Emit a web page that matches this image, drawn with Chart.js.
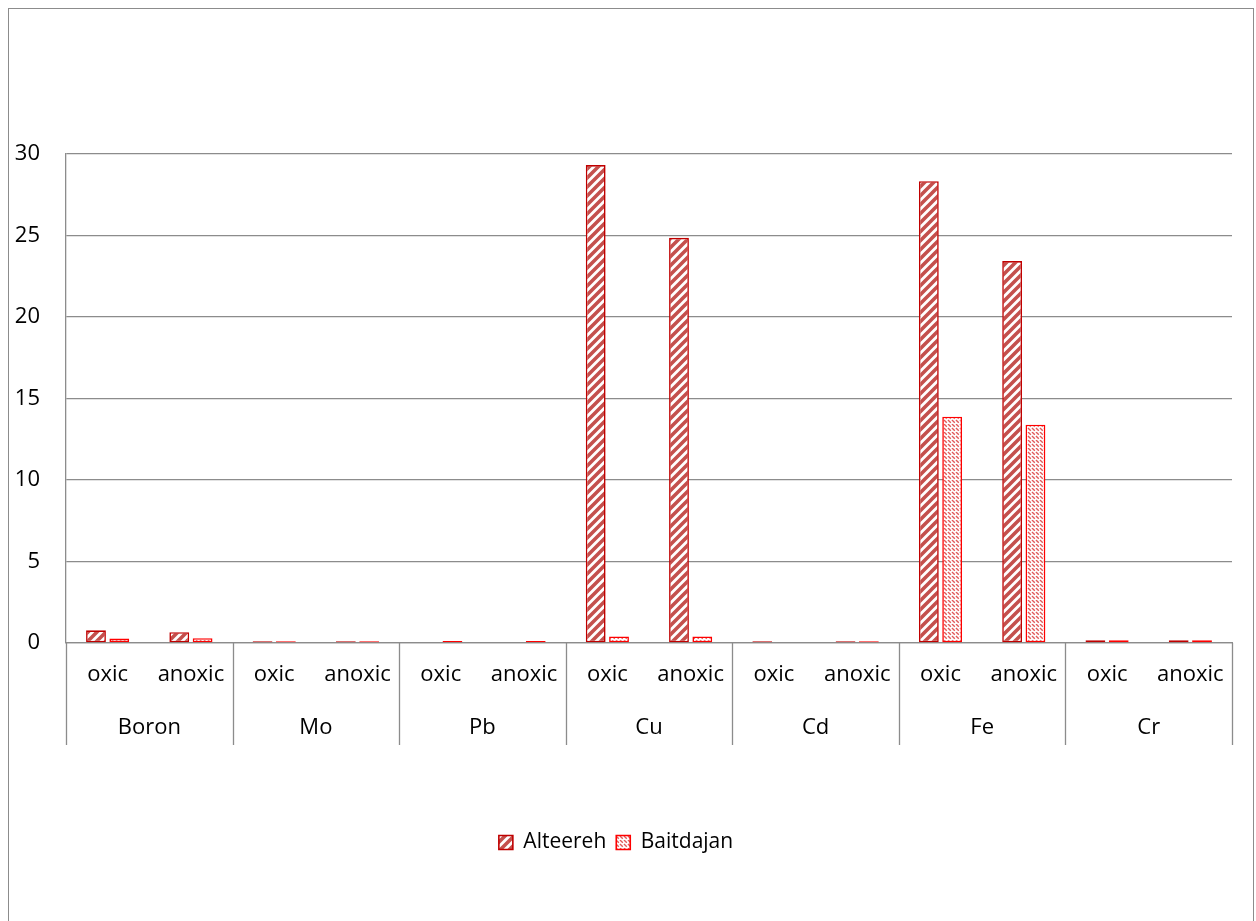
<!DOCTYPE html>
<html>
<head>
<meta charset="utf-8">
<script src="https://cdn.jsdelivr.net/npm/chart.js@4.4.1/dist/chart.umd.min.js"></script>
<style>
  html, body { margin: 0; padding: 0; background: #fff; }
  canvas { display: block; }
</style>
</head>
<body>
<canvas id="chart" width="1256" height="921"></canvas>
<script>
// Elements and sampling conditions on the category axis
const elements = ['Boron', 'Mo', 'Pb', 'Cu', 'Cd', 'Fe', 'Cr'];
const conditions = ['oxic', 'anoxic'];

// Concentrations per element/condition (oxic, anoxic for each element)
const alteereh  = [0.78, 0.66, 0.1, 0.1, 0, 0, 29.32, 24.86, 0.1, 0.1, 28.33, 23.43, 0.17, 0.17];
const baitdajan = [0.27, 0.29, 0.1, 0.1, 0.12, 0.12, 0.40, 0.40, 0, 0.1, 13.88, 13.39, 0.17, 0.17];

// Value axis
const yMin = 0, yMax = 30, yStep = 5;

const categoryLabels = [];
elements.forEach(() => conditions.forEach(c => categoryLabels.push(c)));

const FONT = '"Open Sans", "Noto Sans", sans-serif';
const GRID = '#8c8c8c';

// Wide upward-diagonal hatch
function wideUpwardPattern(color) {
  const s = 9, cv = document.createElement('canvas');
  cv.width = s; cv.height = s;
  const g = cv.getContext('2d');
  g.fillStyle = '#fff'; g.fillRect(0, 0, s, s);
  g.strokeStyle = color; g.lineWidth = 3.6; g.lineCap = 'square';
  g.beginPath();
  for (let k = -1; k <= 1; k++) {
    g.moveTo(k * s - 1, s + 1);
    g.lineTo(k * s + s + 1, -1);
  }
  g.stroke();
  return g.createPattern(cv, 'repeat');
}

// Fine dashed downward-diagonal hatch
function dashedDownwardPattern(color) {
  const s = 8, cv = document.createElement('canvas');
  cv.width = s; cv.height = s;
  const g = cv.getContext('2d');
  g.fillStyle = '#fff'; g.fillRect(0, 0, s, s);
  g.strokeStyle = color; g.lineWidth = 1.4;
  g.setLineDash([4, 1.6]);
  g.beginPath();
  for (let k = -2; k <= 2; k++) {
    g.moveTo(k * 4, 0);
    g.lineTo(k * 4 + s, s);
  }
  g.stroke();
  return g.createPattern(cv, 'repeat');
}

// Frame, separators between element groups and element names
const groupAxisPlugin = {
  id: 'groupAxis',
  beforeDraw(chart) {
    const ctx = chart.ctx;
    ctx.save();
    ctx.fillStyle = '#fff';
    ctx.fillRect(0, 0, chart.width, chart.height);
    ctx.strokeStyle = GRID;
    ctx.lineWidth = 1;
    ctx.strokeRect(8.5, 8.5, 1245, 1000);
    ctx.restore();
  },
  afterDraw(chart) {
    const x = chart.scales.x;
    const ctx = chart.ctx;
    const bottom = chart.chartArea.bottom;
    const half = (x.getPixelForValue(1) - x.getPixelForValue(0)) / 2;
    ctx.save();
    ctx.strokeStyle = GRID;
    ctx.lineWidth = 1.3;
    ctx.beginPath();
    for (let j = 0; j <= elements.length; j++) {
      const px = Math.round(x.getPixelForValue(j * conditions.length) - half) + 0.5;
      ctx.moveTo(px, bottom);
      ctx.lineTo(px, bottom + 102);
    }
    ctx.stroke();
    ctx.fillStyle = '#000';
    ctx.font = '22px ' + FONT;
    ctx.textAlign = 'center';
    ctx.textBaseline = 'middle';
    elements.forEach((name, j) => {
      const a = x.getPixelForValue(j * conditions.length);
      const b = x.getPixelForValue(j * conditions.length + conditions.length - 1);
      ctx.fillText(name, (a + b) / 2, bottom + 85);
    });
    ctx.restore();
  }
};

const ctx = document.getElementById('chart').getContext('2d');

new Chart(ctx, {
  type: 'bar',
  data: {
    labels: categoryLabels,
    datasets: [
      {
        label: 'Alteereh',
        data: alteereh,
        backgroundColor: wideUpwardPattern('#c4504d'),
        borderColor: '#c00000',
        borderWidth: 1.6,
        borderSkipped: false,
        categoryPercentage: 0.56,
        barPercentage: 0.85
      },
      {
        label: 'Baitdajan',
        data: baitdajan,
        backgroundColor: dashedDownwardPattern('#e05a5a'),
        borderColor: '#ff0000',
        borderWidth: 1.6,
        borderSkipped: false,
        categoryPercentage: 0.56,
        barPercentage: 0.85
      }
    ]
  },
  options: {
    responsive: false,
    devicePixelRatio: 1,
    animation: false,
    layout: { padding: { top: 154, right: 24, bottom: 58, left: 0 } },
    plugins: {
      legend: {
        position: 'bottom',
        labels: {
          font: { family: FONT, size: 21 },
          color: '#000',
          boxWidth: 14,
          boxHeight: 14,
          padding: 10
        }
      },
      tooltip: { enabled: false }
    },
    scales: {
      x: {
        grid: { display: false },
        border: { display: true, color: GRID, width: 1.3 },
        ticks: {
          font: { family: FONT, size: 22 },
          color: '#000',
          padding: 11,
          maxRotation: 0,
          autoSkip: false
        },
        afterFit(scale) { scale.height = 179; }
      },
      y: {
        min: yMin,
        max: yMax,
        grid: { color: GRID, lineWidth: 1.3, drawTicks: false },
        border: { display: true, color: GRID, width: 1.3 },
        ticks: {
          stepSize: yStep,
          font: { family: FONT, size: 22 },
          color: '#000',
          padding: 26
        },
        afterFit(scale) { scale.width = 66; }
      }
    }
  },
  plugins: [groupAxisPlugin]
});
</script>
</body>
</html>
